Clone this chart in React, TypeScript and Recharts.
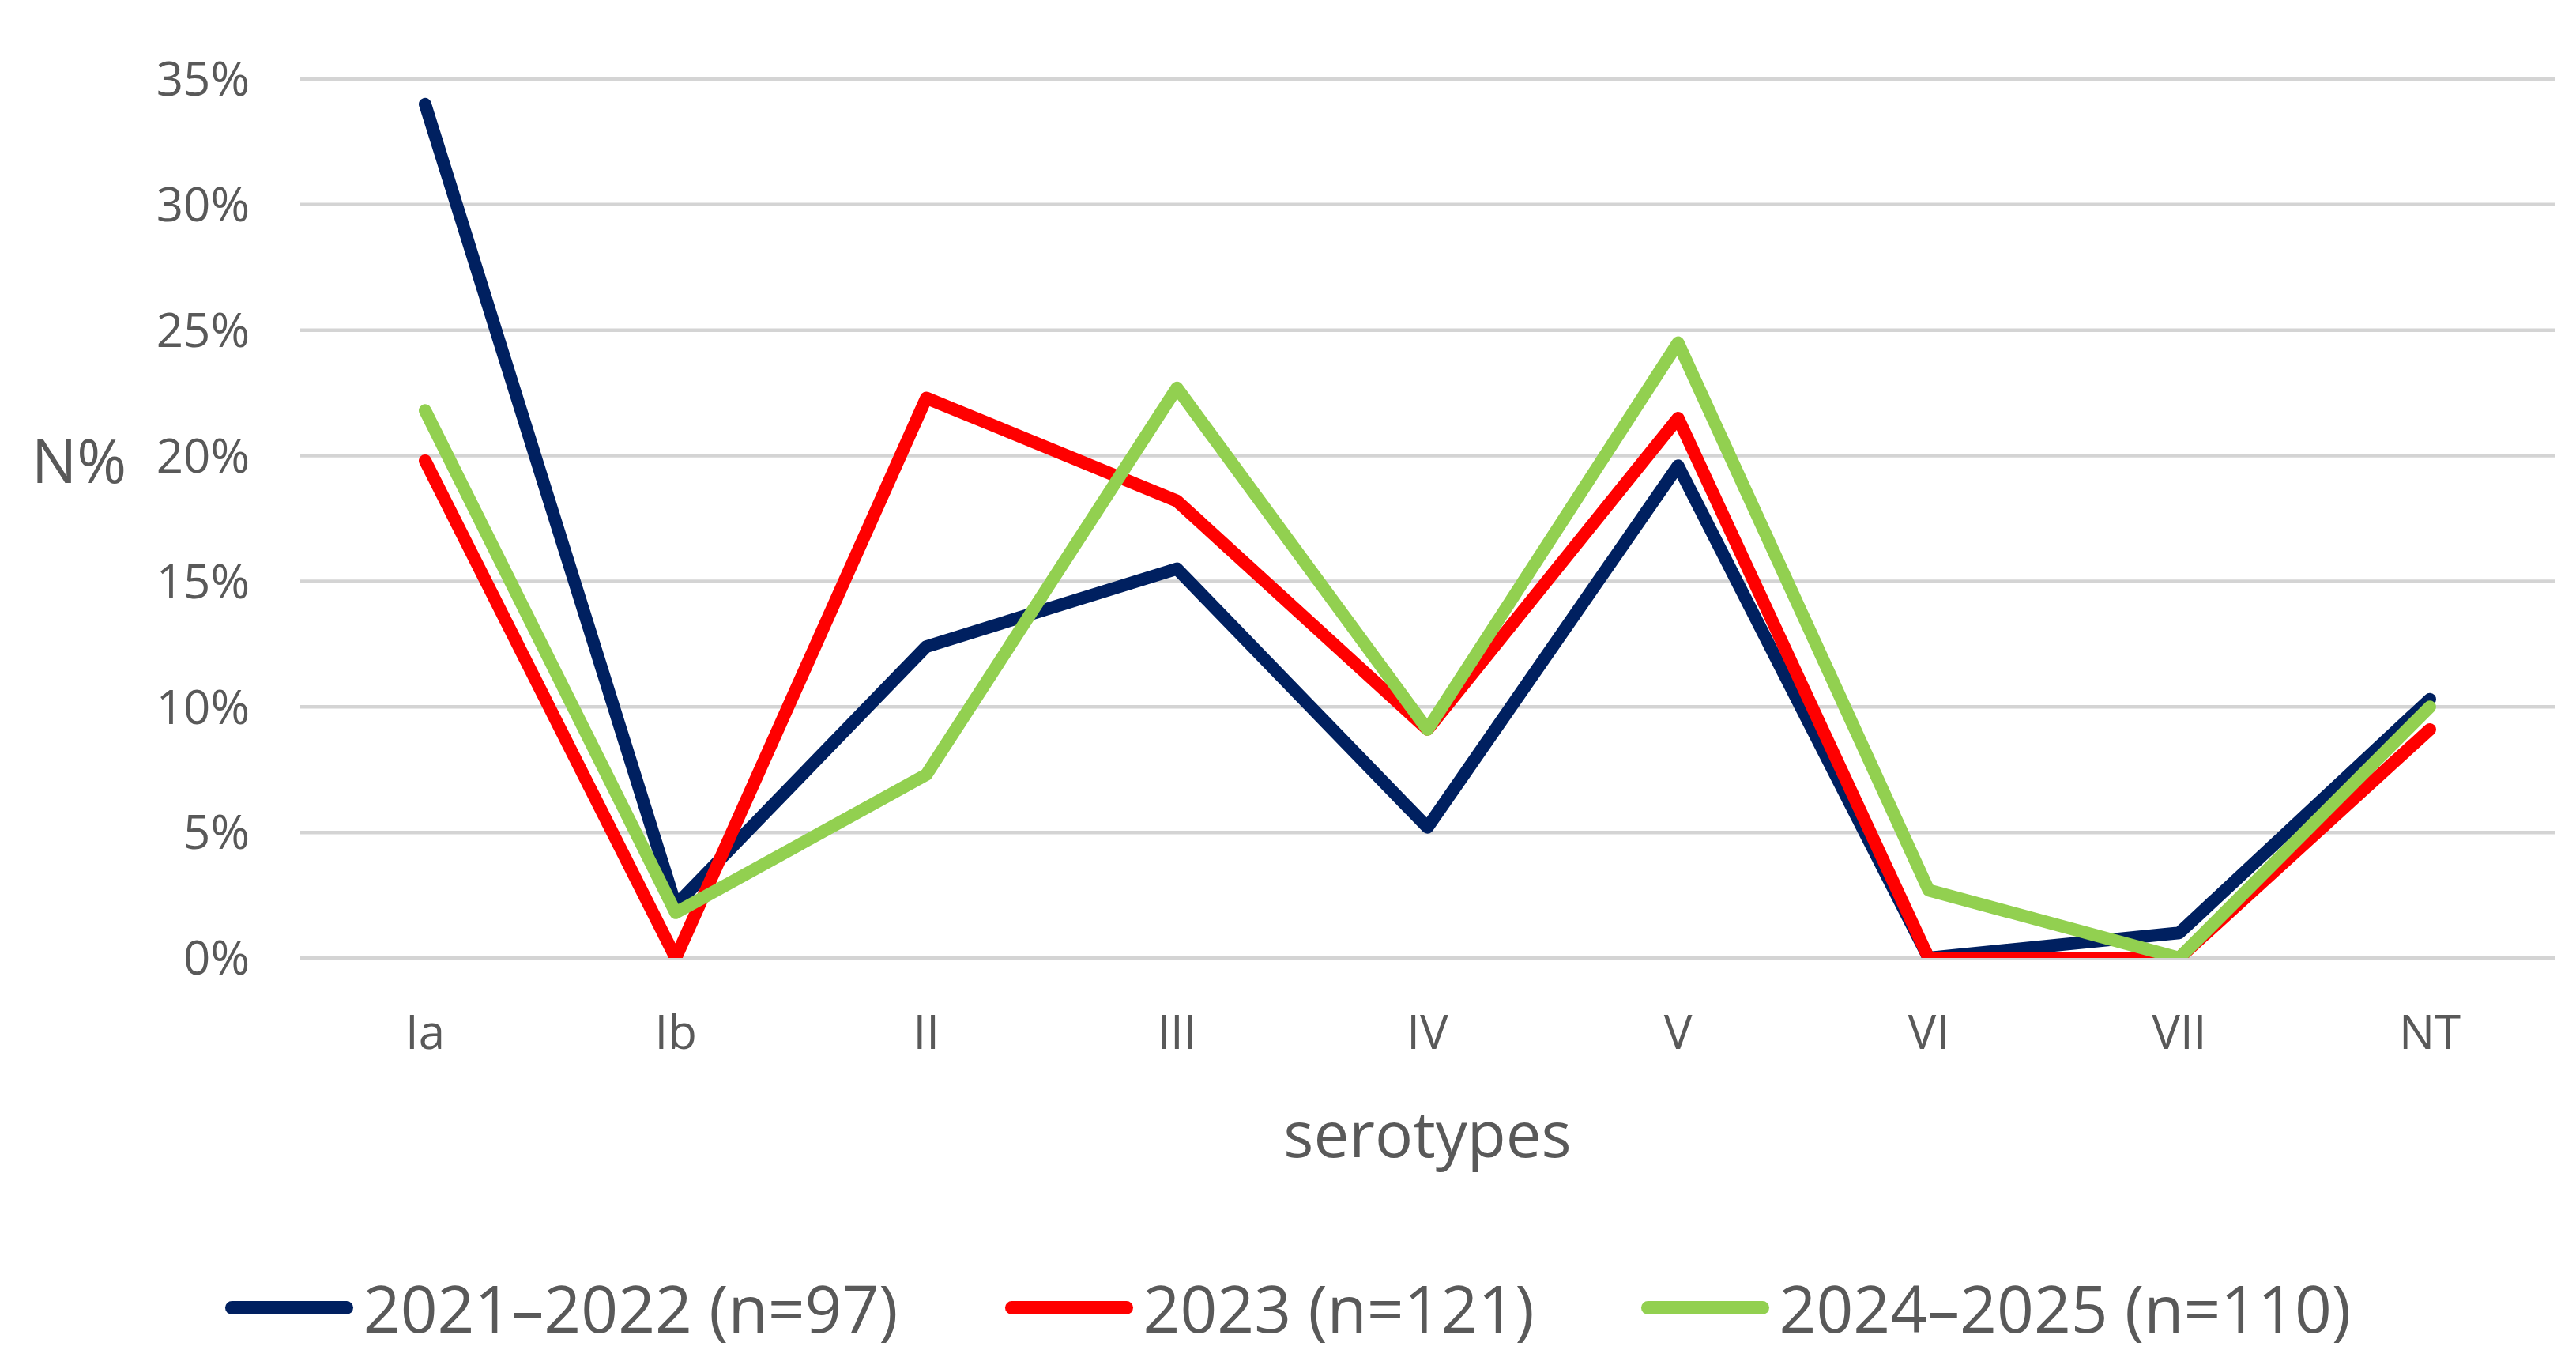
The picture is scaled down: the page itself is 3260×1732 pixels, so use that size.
import { CartesianGrid, Legend, Line, LineChart, XAxis, YAxis } from "recharts";

const serotypes = ["Ia", "Ib", "II", "III", "IV", "V", "VI", "VII", "NT"];
const period2122 = [34.0, 2.1, 12.4, 15.5, 5.2, 19.6, 0, 1.0, 10.3];
const period2023 = [19.8, 0, 22.3, 18.2, 9.1, 21.5, 0, 0, 9.1];
const period2425 = [21.8, 1.8, 7.3, 22.7, 9.1, 24.5, 2.7, 0, 10.0];
const yTicks = [0, 5, 10, 15, 20, 25, 30, 35];

const series = [
  { key: "p2122", name: "2021–2022 (n=97)", color: "#002060" },
  { key: "p2023", name: "2023 (n=121)", color: "#FF0000" },
  { key: "p2425", name: "2024–2025 (n=110)", color: "#92D050" },
];

const FONT = '"Open Sans", sans-serif';
const INK = "#595959";

const data = serotypes.map((s, i) => ({
  serotype: s,
  p2122: period2122[i],
  p2023: period2023[i],
  p2425: period2425[i],
}));

function LegendRow() {
  return (
    <div
      style={{
        display: "flex",
        justifyContent: "center",
        alignItems: "center",
        fontFamily: FONT,
        fontSize: 82,
        lineHeight: "82px",
        color: INK,
      }}
    >
      {series.map((s, i) => (
        <div
          key={s.key}
          style={{
            display: "flex",
            alignItems: "center",
            marginLeft: i === 0 ? 0 : 135,
          }}
        >
          <span
            style={{
              display: "inline-block",
              width: 162,
              height: 17,
              borderRadius: 9,
              background: s.color,
              marginRight: 13,
            }}
          />
          <span style={{ whiteSpace: "nowrap" }}>{s.name}</span>
        </div>
      ))}
    </div>
  );
}

export default function App() {
  return (
    <div style={{ position: "absolute", left: 0, top: 0, width: 3260, height: 1732, background: "#fff" }}>
      <LineChart
        width={3260}
        height={1732}
        data={data}
        margin={{ top: 100, right: 27, bottom: 0, left: 0 }}
      >
        <CartesianGrid vertical={false} stroke="#D4D4D4" strokeWidth={4.5} />
        <XAxis
          dataKey="serotype"
          height={520}
          padding={{ left: 158, right: 158 }}
          axisLine={false}
          tickLine={false}
          tickSize={0}
          tickMargin={72}
          interval={0}
          tick={{ fill: INK, fontSize: 60, fontFamily: FONT }}
          label={{
            content: ({ viewBox }: any) => (
              <text
                x={viewBox.x + viewBox.width / 2}
                y={viewBox.y + 252}
                textAnchor="middle"
                fill={INK}
                fontSize={80}
                fontFamily={FONT}
              >
                serotypes
              </text>
            ),
          }}
        />
        <YAxis
          width={380}
          domain={[0, 35]}
          ticks={yTicks}
          allowDataOverflow
          axisLine={false}
          tickLine={false}
          tickSize={0}
          tickMargin={64}
          tickFormatter={(v: number) => `${v}%`}
          tick={{ fill: INK, fontSize: 60, fontFamily: FONT }}
          label={{
            content: ({ viewBox }: any) => (
              <text
                x={viewBox.x + 40}
                y={viewBox.y + 511}
                textAnchor="start"
                fill={INK}
                fontSize={76}
                fontFamily={FONT}
              >
                N%
              </text>
            ),
          }}
        />
        <Legend
          verticalAlign="middle"
          align="center"
          wrapperStyle={{ top: 1613, left: 0, width: 3260 }}
          content={() => <LegendRow />}
        />
        {series.map((s) => (
          <Line
            key={s.key}
            type="linear"
            dataKey={s.key}
            name={s.name}
            stroke={s.color}
            strokeWidth={16}
            strokeLinejoin="round"
            strokeLinecap="round"
            dot={false}
            activeDot={false}
            isAnimationActive={false}
          />
        ))}
      </LineChart>
    </div>
  );
}
